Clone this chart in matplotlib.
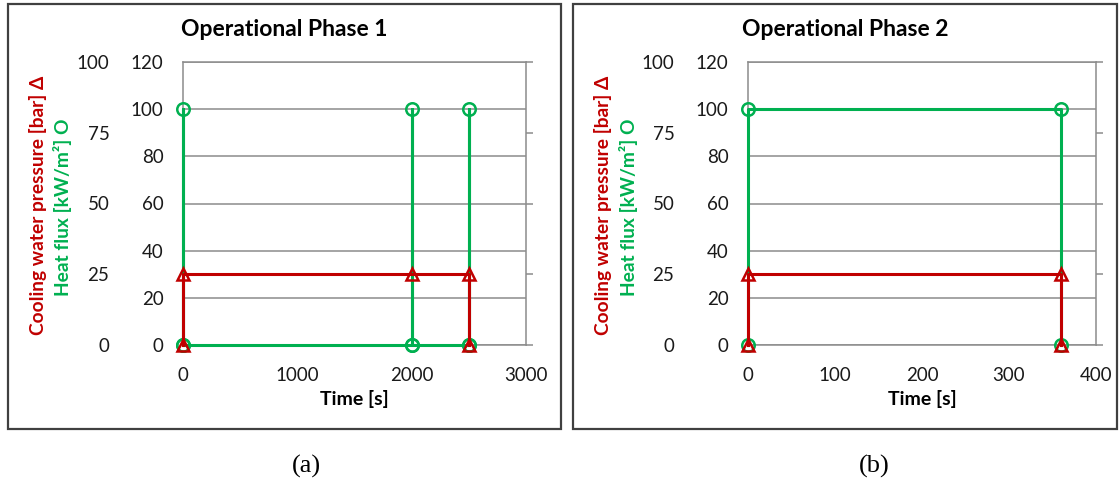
import matplotlib.pyplot as plt
from matplotlib.patches import Rectangle

# Operational phase 1: three heat-flux pulses, pressure held from 0 to 2500 s
time_heat_1 = [0, 0, 0, 2000, 2000, 2000, 2500, 2500, 2500]
heat_flux_1 = [0, 100, 0, 0, 100, 0, 0, 100, 0]
time_press_1 = [0, 0, 2000, 2500, 2500]
pressure_1 = [0, 25, 25, 25, 0]

# Operational phase 2: one long step of heat flux and pressure
time_heat_2 = [0, 0, 360, 360]
heat_flux_2 = [0, 100, 100, 0]
time_press_2 = [0, 0, 360, 360]
pressure_2 = [0, 25, 25, 0]

heat_ticks = [0, 20, 40, 60, 80, 100, 120]
press_ticks = [0, 25, 50, 75, 100]
time_ticks_1 = [0, 1000, 2000, 3000]
time_ticks_2 = [0, 100, 200, 300, 400]

GREEN = '#00B050'
RED = '#C00000'
GREY = '#8c8c8c'
FONT = 'Lato'

plt.rcParams['font.family'] = [FONT, 'DejaVu Sans']

W, H = 1120, 488
fig = plt.figure(figsize=(W / 100, H / 100), dpi=100)


def px_box(x0, y0, x1, y1):
    # pixel box (top-left origin) -> figure fraction rect
    return [x0 / W, 1 - y1 / H, (x1 - x0) / W, (y1 - y0) / H]


def panel(rect, frame, title, tag, t_heat, q, t_press, p, xticks):
    # outer frame around each chart
    fx0, fy0, fx1, fy1 = frame
    fig.patches.append(Rectangle((fx0 / W, 1 - fy1 / H), (fx1 - fx0) / W, (fy1 - fy0) / H,
                                 transform=fig.transFigure, fill=False,
                                 edgecolor='#404040', linewidth=1.6))
    cx = (fx0 + fx1) / 2 / W
    fig.text(cx, 1 - 30 / H, title, ha='center', va='center',
             fontsize=16.5, fontweight='bold', color='black')

    ax = fig.add_axes(px_box(*rect))
    ax.set_xlim(xticks[0], xticks[-1])
    ax.set_ylim(0, 120)
    ax.set_yticks(heat_ticks)
    ax.set_xticks(xticks)
    ax.grid(axis='y', color=GREY, linewidth=1.1)
    ax.set_axisbelow(True)
    for s in ['left', 'bottom', 'top']:
        ax.spines[s].set_color(GREY)
        ax.spines[s].set_linewidth(1.1)
    ax.spines['right'].set_visible(False)
    ax.tick_params(axis='y', length=0, pad=14, labelsize=13.5, labelcolor='#1a1a1a')
    ax.tick_params(axis='x', length=0, pad=15.5, labelsize=13.5, labelcolor='#1a1a1a')
    ax.set_xlabel('Time [s]', fontsize=14, fontweight='bold', labelpad=5)

    ax.plot(t_heat, q, color=GREEN, linewidth=2.2, marker='o', markersize=9,
            markerfacecolor='none', markeredgewidth=1.8, clip_on=False, zorder=3)

    # pressure on a twin axis: line on the right, labels pushed out left
    ax2 = ax.twinx()
    ax2.set_ylim(0, 100)
    ax2.set_yticks(press_ticks)
    for s in ['left', 'bottom', 'top']:
        ax2.spines[s].set_visible(False)
    ax2.spines['right'].set_color(GREY)
    ax2.spines['right'].set_linewidth(1.1)
    ax2.tick_params(axis='y', left=False, right=True, labelleft=True, labelright=False,
                    direction='out', length=5, width=1.1, color=GREY, pad=48,
                    labelsize=13.5, labelcolor='#1a1a1a')
    ax2.plot(t_press, p, color=RED, linewidth=2.2, marker='^', markersize=9,
             markerfacecolor='none', markeredgewidth=1.8, clip_on=False, zorder=4)

    # the two rotated axis titles
    lx = rect[0]
    fig.text((lx - 145) / W, 1 - 205 / H, 'Cooling water pressure [bar] \u0394',
             rotation=90, ha='center', va='center', fontsize=13.8,
             fontweight='bold', color=RED)
    fig.text((lx - 120) / W, 1 - 207 / H, 'Heat flux [kW/m\u00b2] O',
             rotation=90, ha='center', va='center', fontsize=13.8,
             fontweight='bold', color=GREEN)

    fig.text((rect[0] + rect[2]) / 2 / W - 48 / W, 1 - 466 / H, tag, ha='center',
             va='center', fontsize=19, family='Liberation Serif')


panel((183, 62, 526, 345), (8, 4, 561, 429), 'Operational Phase 1', '(a)',
      time_heat_1, heat_flux_1, time_press_1, pressure_1, time_ticks_1)
panel((748, 62, 1096, 345), (573, 4, 1117, 429), 'Operational Phase 2', '(b)',
      time_heat_2, heat_flux_2, time_press_2, pressure_2, time_ticks_2)

fig.savefig('out.png', dpi=100, facecolor='white')
